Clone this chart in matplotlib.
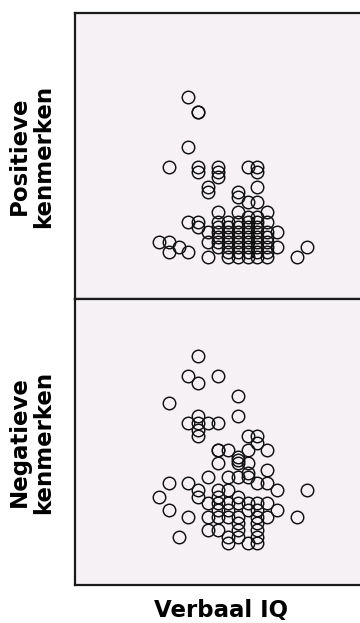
import matplotlib
matplotlib.use("Agg")
import matplotlib.pyplot as plt

iq_pos = [76, 78, 78, 76,
          72, 78, 78, 82, 82, 82, 88, 90, 90,
          80, 80, 90, 86, 86, 88, 90, 88, 90,
          82, 86, 92,
          76, 78, 82, 84, 86, 88, 90, 92,
          78, 82, 84, 86, 88, 90,
          80, 82, 84, 86, 88, 90, 92, 94,
          82, 84, 86, 88, 90, 92,
          70, 72, 80, 82, 84, 86, 88, 90, 92,
          74, 82, 84, 86, 88, 90, 92, 94, 100,
          72, 76, 84, 86, 88, 90, 92,
          80, 84, 86, 88, 90, 92, 98]
score_pos = [32, 29, 29, 22,
             18, 18, 17, 18, 16, 17, 18, 18, 17,
             14, 13, 14, 13, 12, 11, 11, 8, 8,
             9, 9, 9,
             7, 7, 7, 7, 7, 7, 7, 7,
             6, 6, 6, 6, 6, 6,
             5, 5, 5, 5, 5, 5, 5, 5,
             4, 4, 4, 4, 4, 4,
             3, 3, 3, 3, 3, 3, 3, 3, 3,
             2, 2, 2, 2, 2, 2, 2, 2, 2,
             1, 1, 1, 1, 1, 1, 1,
             0, 0, 0, 0, 0, 0, 0]

iq_neg = [78, 76, 78, 82, 72, 86, 86,
          76, 78, 80, 82, 78, 78, 78,
          88, 90, 90,
          82, 82, 84, 88, 92,
          86, 86, 82, 86, 88, 92,
          80, 84, 86, 88, 88,
          72, 76, 90, 92,
          78, 82, 84, 94, 100,
          70, 78, 82, 86,
          80, 82, 84, 86, 88, 90, 92,
          72, 82, 84, 88, 90, 94,
          76, 80, 82, 84, 86, 90, 92, 98,
          86, 90,
          80, 82, 86, 90,
          74, 84, 86, 90,
          84, 88, 90]
score_neg = [28, 25, 24, 25, 21, 22, 19,
             18, 18, 18, 18, 19, 17, 16,
             16, 16, 15,
             14, 14, 14, 14, 14,
             13, 12.5, 12, 12, 12, 11,
             10, 10, 10, 10, 10.5,
             9, 9, 9, 9,
             8, 8, 8, 8, 8,
             7, 7, 7, 7,
             6, 6, 6, 6, 6, 6, 6,
             5, 5, 5, 5, 5, 5,
             4, 4, 4, 4, 4, 4, 4, 4,
             3, 3,
             2, 2, 2, 2,
             1, 1, 1, 1,
             0, 0, 0]

W, H = 360, 623
fig = plt.figure(figsize=(W / 100, H / 100), dpi=100)

bg = "#f5f1f5"
left, right = 75, 366
panels = [
    (13, 299, iq_pos, score_pos, (-8.4, 48.8), "Positieve\nkenmerken"),
    (299, 585, iq_neg, score_neg, (-6.25, 36.6), "Negatieve\nkenmerken"),
]

axes = []
for top, bot, xs, ys, ylim, label in panels:
    ax = fig.add_axes([left / W, 1 - bot / H, (right - left) / W, (bot - top) / H])
    ax.set_facecolor(bg)
    ax.plot(xs, ys, linestyle="none", marker="o", markersize=9,
            markerfacecolor="none", markeredgecolor="#111111",
            markeredgewidth=1.05)
    ax.set_xlim(53.0, 112.0)
    ax.set_ylim(*ylim)
    ax.set_xticks([])
    ax.set_yticks([])
    for s in ax.spines.values():
        s.set_linewidth(1.6)
        s.set_color("#1a1a1a")
    ax.set_ylabel(label, fontsize=16.5, fontweight="bold", labelpad=14,
                  linespacing=1.1)
    axes.append(ax)

axes[1].set_xlabel("Verbaal IQ", fontsize=16.5, fontweight="bold", labelpad=10)

fig.savefig("out.png", dpi=100)
